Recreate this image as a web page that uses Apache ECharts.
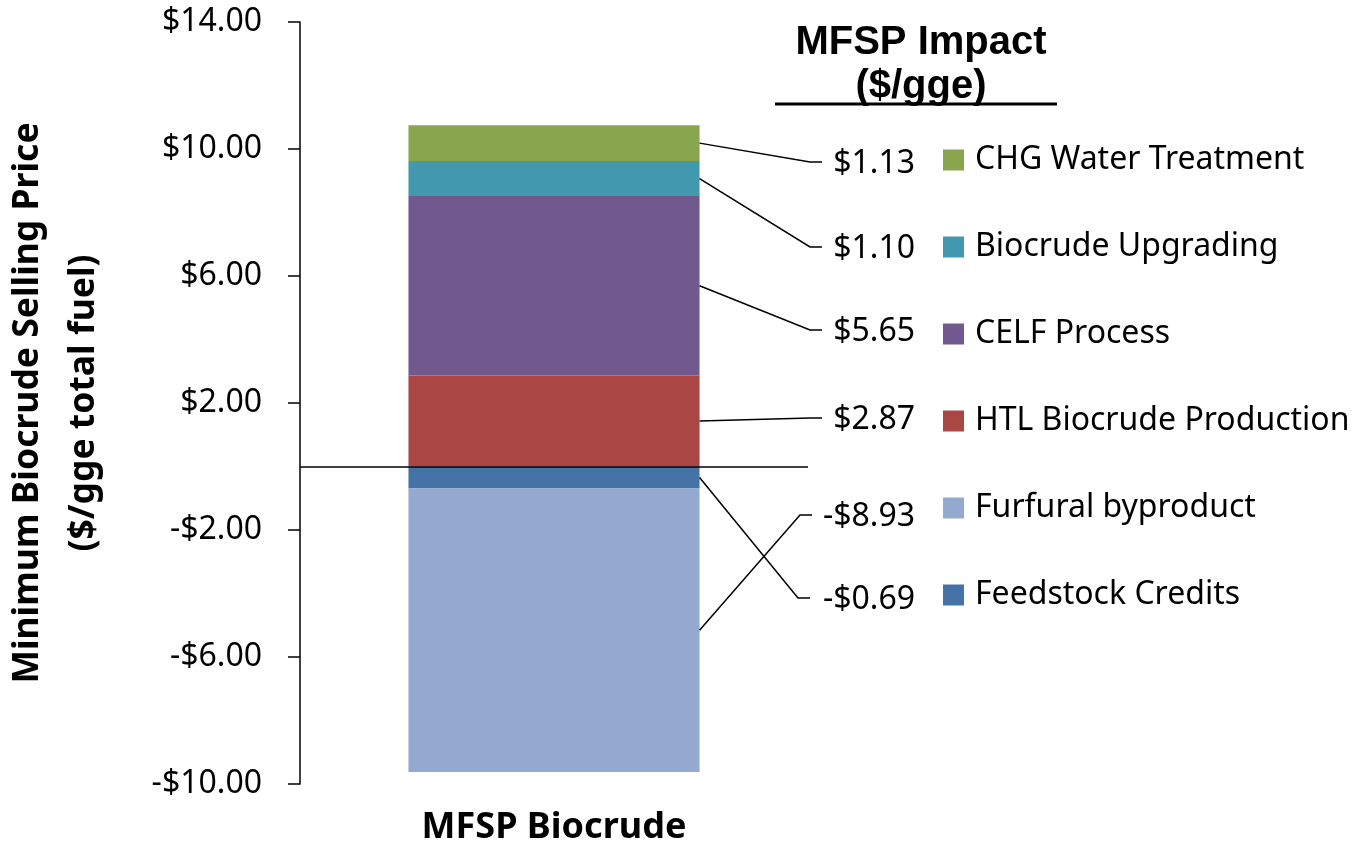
<!DOCTYPE html>
<html>
<head>
<meta charset="utf-8">
<script src="https://cdn.jsdelivr.net/npm/echarts@6/dist/echarts.min.js"></script>
<style>
  html, body { margin: 0; padding: 0; background: #fff; }
  #chartDiv { width: 1353px; height: 846px; }
</style>
</head>
<body>
<div id="chartDiv"></div>
<script>
var myChart = echarts.init(document.getElementById('chartDiv'));

// data
var categories = ['MFSP Biocrude'];
// stacking order (bottom up for positives, top down for negatives)
var seriesNames = ['HTL Biocrude Production', 'CELF Process', 'Biocrude Upgrading',
                   'CHG Water Treatment', 'Feedstock Credits', 'Furfural byproduct'];
var seriesValues = [2.87, 5.65, 1.10, 1.13, -0.69, -8.93];
var seriesColors = ['#AA4643', '#71588F', '#4198AF', '#89A54E', '#4572A7', '#93A9CF'];
var legendOrder = ['CHG Water Treatment', 'Biocrude Upgrading', 'CELF Process',
                   'HTL Biocrude Production', 'Furfural byproduct', 'Feedstock Credits'];
var yTicks = [-10, -6, -2, 2, 6, 10, 14];

// layout of the value labels (pixel rows next to the legend)
var labelRowY = [162, 247, 330, 418, 515, 598];   // in legend order
var labelElbowX = [810, 810, 810, 810, 800, 798];
var barWidthPct = 0.573;

var font = 'Noto Sans';

function money(v) {
    return (v < 0 ? '-$' : '$') + Math.abs(v).toFixed(2);
}

// middle value of each stacked segment
var posBase = 0, negBase = 0;
var segMid = seriesValues.map(function (v) {
    var m;
    if (v >= 0) { m = posBase + v / 2; posBase += v; }
    else { m = negBase + v / 2; negBase += v; }
    return m;
});

var leaderData = legendOrder.map(function (name, row) {
    var i = seriesNames.indexOf(name);
    return [0, segMid[i], row, seriesValues[i]];
});

var barSeries = seriesNames.map(function (name, i) {
    var s = {
        name: name,
        type: 'bar',
        stack: 'mfsp',
        barWidth: (barWidthPct * 100) + '%',
        itemStyle: { color: seriesColors[i] },
        data: [seriesValues[i]]
    };
    if (i === 0) {
        s.markLine = {
            silent: true,
            symbol: 'none',
            label: { show: false },
            lineStyle: { color: '#000', type: 'solid', width: 1.5 },
            data: [{ yAxis: 0 }]
        };
    }
    return s;
});

option = {
    backgroundColor: '#fff',
    animation: false,
    title: {
        text: 'MFSP Impact\n($/gge)',
        left: 916,
        top: 16,
        textAlign: 'center',
        textStyle: {
            fontFamily: 'Liberation Sans',
            fontWeight: 'bold',
            fontSize: 40,
            lineHeight: 44,
            color: '#000'
        }
    },
    graphic: [{
        type: 'line',
        shape: { x1: 775, y1: 104, x2: 1057, y2: 104 },
        style: { stroke: '#000', lineWidth: 3 }
    }],
    legend: {
        data: legendOrder,
        orient: 'vertical',
        left: 943,
        top: 144,
        padding: 0,
        icon: 'rect',
        itemWidth: 21,
        itemHeight: 21,
        itemGap: 55,
        selectedMode: false,
        textStyle: {
            fontFamily: font,
            fontSize: 32,
            lineHeight: 32,
            color: '#000',
            padding: [0, 0, 0, 6]
        }
    },
    grid: { left: 300, right: 545, top: 22, bottom: 62, outerBoundsMode: 'none' },
    xAxis: {
        type: 'category',
        data: categories,
        axisLine: { show: false },
        axisTick: { show: false },
        axisLabel: {
            margin: 26,
            fontFamily: font,
            fontWeight: 'bold',
            fontSize: 36,
            color: '#000'
        }
    },
    yAxis: {
        type: 'value',
        min: -10,
        max: 14,
        name: 'Minimum Biocrude Selling Price\n($/gge total fuel)',
        nameLocation: 'middle',
        nameRotate: 90,
        nameGap: 188,
        nameTextStyle: {
            fontFamily: font,
            fontWeight: 'bold',
            fontSize: 35.5,
            lineHeight: 56,
            color: '#000'
        },
        axisLine: { show: true, lineStyle: { color: '#000', width: 1.5 } },
        axisTick: { show: true, inside: false, length: 12, customValues: yTicks,
                    lineStyle: { color: '#000', width: 1.5 } },
        axisLabel: {
            customValues: yTicks,
            margin: 38,
            fontFamily: font,
            fontSize: 32,
            color: '#000',
            formatter: function (v) { return money(v); }
        },
        splitLine: { show: false }
    },
    series: barSeries.concat([{
        name: 'leaders',
        type: 'custom',
        silent: true,
        z: 5,
        clip: false,
        data: leaderData,
        renderItem: function (params, api) {
            var p = api.coord([api.value(0), api.value(1)]);
            var half = api.size([1, 0])[0] * barWidthPct / 2;
            var row = api.value(2);
            var ry = labelRowY[row];
            var ex = labelElbowX[row];
            return {
                type: 'group',
                children: [{
                    type: 'polyline',
                    shape: { points: [[p[0] + half, p[1]], [ex, ry], [ex + 12, ry]] },
                    style: { stroke: '#000', lineWidth: 1.5, fill: null }
                }, {
                    type: 'text',
                    style: {
                        text: money(api.value(3)),
                        x: 915,
                        y: ry + 2,
                        align: 'right',
                        verticalAlign: 'middle',
                        fontFamily: font,
                        fontSize: 32,
                        fill: '#000'
                    }
                }]
            };
        }
    }])
};
myChart.setOption(option);
window.onresize = myChart.resize;
</script>
</body>
</html>
